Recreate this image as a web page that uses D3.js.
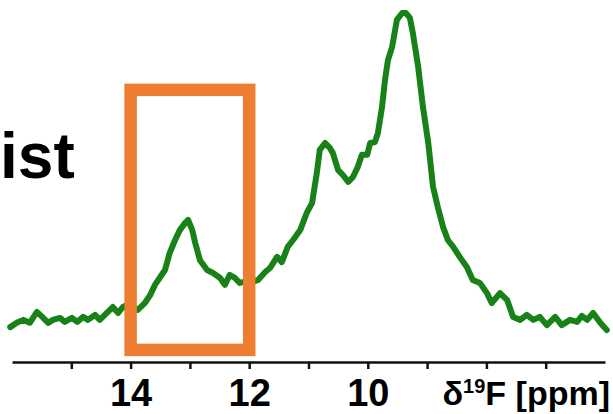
<!DOCTYPE html>
<html>
<head>
<meta charset="utf-8">
<script src="https://cdn.jsdelivr.net/npm/d3@7"></script>
<style>
  html, body { margin: 0; padding: 0; background: #fff; }
  svg { display: block; }
  text { font-family: "Liberation Sans", Arial, sans-serif; font-weight: bold; fill: #000; }
</style>
</head>
<body>
<svg id="chart" width="613" height="414"></svg>
<script>
// chemical shift (ppm) of the traced spectrum points
const ppm = [16.03,15.92,15.81,15.70,15.58,15.49,15.39,15.31,15.19,15.11,14.99,14.90,14.80,14.72,14.60,14.52,14.40,14.30,14.21,14.13,
  14.06,13.98,13.88,13.76,13.67,13.59,13.50,13.42,13.34,13.25,13.17,13.08,13.03,12.96,12.91,12.83,12.71,12.61,12.49,12.41,
  12.33,12.24,12.16,12.09,11.99,11.85,11.73,11.65,11.53,11.45,11.35,11.26,11.14,11.03,10.94,10.86,10.81,10.72,10.64,10.59,
  10.50,10.42,10.33,10.25,10.17,10.10,10.01,9.96,9.88,9.83,9.76,9.71,9.66,9.59,9.51,9.42,9.36,9.29,9.24,9.15,
  9.07,8.98,8.90,8.82,8.73,8.65,8.56,8.45,8.33,8.23,8.11,7.99,7.91,7.77,7.65,7.55,7.43,7.32,7.21,7.10,
  6.98,6.84,6.73,6.59,6.47,6.39,6.30,6.20,6.08,5.97];
// relative intensity
const intensity = [3.9,5.2,6.1,5.2,8.5,7.0,5.2,6.1,6.7,5.5,6.7,5.5,7.0,6.1,7.6,6.1,8.2,10.0,8.2,10.0,
  10.6,9.7,9.1,11.2,13.6,16.7,19.1,21.2,26.4,30.3,33.3,35.5,36.4,33.3,29.4,24.2,21.2,20.3,18.8,16.7,
  19.7,18.8,17.3,17.6,17.3,18.2,20.6,21.8,25.2,23.6,28.2,30.3,33.3,38.5,41.5,50.6,57.6,59.7,58.2,56.7,
  51.5,50.0,47.9,49.4,52.4,56.1,56.1,59.7,60.0,62.7,70.6,78.8,84.8,88.8,97.0,99.1,99.1,97.6,93.0,82.7,
  70.6,59.7,46.4,40.3,34.2,30.3,28.2,25.2,22.1,18.2,17.3,14.2,11.2,14.2,12.1,7.0,6.1,7.6,6.1,7.0,
  4.5,7.0,4.5,6.1,5.5,7.3,6.1,8.2,5.2,3.0];
const xDomain = [16, 6];
const tickValues = [15, 14, 13, 12, 11, 10, 9, 8, 7];
const tickLabels = {14: "14", 12: "12", 10: "10"};
const axisTitle = "δ";
const axisTitleSup = "19";
const axisTitleRest = "F [ppm]";
const sideText = "ist";
const boxPpm = [14, 12];
const boxIntensity = [75.8, -3.0];

const svg = d3.select("#chart");
const x = d3.scaleLinear().domain(xDomain).range([12, 605]);
const y = d3.scaleLinear().domain([0, 100]).range([340, 10]);

const data = ppm.map((p, i) => ({p, v: intensity[i]}));

svg.append("path")
  .datum(data)
  .attr("fill", "none")
  .attr("stroke", "#188218")
  .attr("stroke-width", 6)
  .attr("stroke-linejoin", "round")
  .attr("stroke-linecap", "round")
  .attr("d", d3.line().x(d => x(d.p)).y(d => y(d.v)));

// highlight box
svg.append("rect")
  .attr("x", x(boxPpm[0]))
  .attr("y", y(boxIntensity[0]))
  .attr("width", x(boxPpm[1]) - x(boxPpm[0]))
  .attr("height", y(boxIntensity[1]) - y(boxIntensity[0]))
  .attr("fill", "none")
  .attr("stroke", "#ED7D31")
  .attr("stroke-width", 12.5);

// axis
const axis = d3.axisBottom(x)
  .tickValues(tickValues)
  .tickSize(7)
  .tickSizeOuter(0)
  .tickFormat(d => tickLabels[d] || "");
const g = svg.append("g").attr("transform", "translate(0,362)").call(axis);
g.select(".domain").attr("stroke", "#111").attr("stroke-width", 2.5);
g.selectAll(".tick line").attr("stroke", "#111").attr("stroke-width", 2.5);
g.selectAll(".tick text")
  .attr("y", 44).attr("dy", "0")
  .style("font-size", "38px")
  .style("font-family", "'Liberation Sans', Arial, sans-serif")
  .style("font-weight", "bold")
  .attr("fill", "#000");

const t = svg.append("text")
  .attr("x", 610).attr("y", 405)
  .attr("text-anchor", "end")
  .style("font-size", "34px");
t.append("tspan").text(axisTitle);
t.append("tspan").text(axisTitleSup).style("font-size", "20px").attr("dy", -12);
t.append("tspan").text(axisTitleRest).attr("dy", 12);

svg.append("text")
  .attr("x", 0).attr("y", 178)
  .style("font-size", "64px")
  .text(sideText);
</script>
</body>
</html>
